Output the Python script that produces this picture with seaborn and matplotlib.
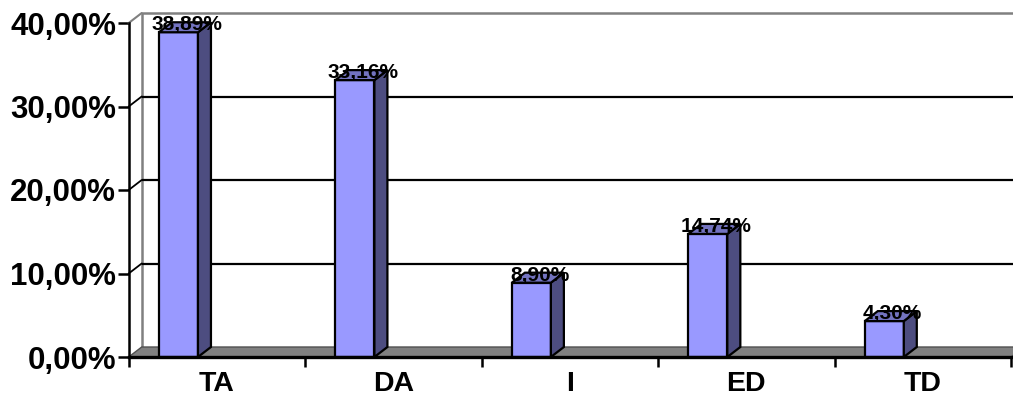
import matplotlib
matplotlib.use("Agg")
import matplotlib.pyplot as plt
from matplotlib.patches import Polygon
import seaborn as sns
import pandas as pd

categories = ["TA", "DA", "I", "ED", "TD"]
values = [38.89, 33.16, 8.90, 14.74, 4.30]
bar_labels = ["38,89%", "33,16%", "8,90%", "14,74%", "4,30%"]
y_ticks = [0, 10, 20, 30, 40]
y_tick_labels = ["0,00%", "10,00%", "20,00%", "30,00%", "40,00%"]

sns.set_theme(style="white")
plt.rcParams['font.family'] = ['Liberation Sans', 'DejaVu Sans']
plt.rcParams['font.weight'] = 'bold'
for k in ["text.color", "xtick.color", "ytick.color", "axes.labelcolor"]:
    plt.rcParams[k] = "black"

W, H = 1013, 404
fig = plt.figure(figsize=(W / 100, H / 100), dpi=100)
ax_left, ax_right, ax_top, ax_bot = 128.7, 1011.0, 23.0, 357.0
ax = fig.add_axes([ax_left / W, (H - ax_bot) / H, (ax_right - ax_left) / W, (ax_bot - ax_top) / H])

bar_w = 0.221
shift = 0.218          # category centre relative to bar centre
x0, x1 = -0.5 + shift, len(categories) - 0.5 + shift
ymax = 40
px_per_x = (ax_right - ax_left) / (x1 - x0)
px_per_y = (ax_bot - ax_top) / ymax
dx = 13 / px_per_x
dy = 10 / px_per_y

front = "#9999FF"
side = "#4D4D80"
topc = "#7373C0"

df = pd.DataFrame({"cat": categories, "val": values})
sns.barplot(data=df, x="cat", y="val", color=front, width=bar_w, saturation=1,
            edgecolor="black", linewidth=1.6, ax=ax, zorder=5)

ax.set_xlim(x0, x1)
ax.set_ylim(0, ymax)

# back wall
wall = Polygon([(x0 + dx, dy), (x1 + 2 * dx, dy), (x1 + 2 * dx, ymax + dy), (x0 + dx, ymax + dy)],
               closed=True, facecolor="white", edgecolor="none", zorder=0, clip_on=False)
ax.add_patch(wall)
ax.plot([x0 + dx, x0 + dx, x1 + 2 * dx], [dy, ymax + dy, ymax + dy], color="#808080",
        lw=1.8, clip_on=False, zorder=1, solid_capstyle="butt")
ax.plot([x0, x0 + dx], [ymax, ymax + dy], color="#808080", lw=1.5, clip_on=False, zorder=1)
for yt in y_ticks[1:-1]:
    ax.plot([x0 + dx, x1 + 2 * dx], [yt + dy, yt + dy], color="black", lw=1.6,
            clip_on=False, zorder=1, solid_capstyle="butt")
    ax.plot([x0, x0 + dx], [yt, yt + dy], color="black", lw=1.3, clip_on=False, zorder=1)

# floor
floor = Polygon([(x0, 0), (x1, 0), (x1 + dx, dy), (x0 + dx, dy)], closed=True,
                facecolor="#808080", edgecolor="#505050", lw=1.0, zorder=2, clip_on=False)
ax.add_patch(floor)

# 3D sides and tops of bars
for i, v in enumerate(values):
    l, r = i - bar_w / 2, i + bar_w / 2
    ax.add_patch(Polygon([(r, 0), (r + dx, dy), (r + dx, v + dy), (r, v)], closed=True,
                         facecolor=side, edgecolor="black", lw=1.6, zorder=6, clip_on=False))
    ax.add_patch(Polygon([(l, v), (r, v), (r + dx, v + dy), (l + dx, v + dy)], closed=True,
                         facecolor=topc, edgecolor="black", lw=1.6, zorder=6, clip_on=False))
    ax.text(i + dx / 2 + 0.01, v + dy * 0.75, bar_labels[i], ha="center", va="center",
            fontsize=15, fontweight="bold", color="black", zorder=8, clip_on=False)

# axes styling
for s in ["top", "right"]:
    ax.spines[s].set_visible(False)
ax.spines["left"].set_color("black")
ax.spines["left"].set_linewidth(1.8)
ax.spines["bottom"].set_color("black")
ax.spines["bottom"].set_linewidth(2.4)
ax.spines["left"].set_zorder(9)
ax.spines["bottom"].set_zorder(9)

ax.set_yticks(y_ticks)
ax.set_yticklabels(y_tick_labels, fontsize=22.5, fontweight="bold", color="black")
ax.tick_params(axis="y", direction="out", length=8, width=1.8, color="black", pad=1, left=True)

centers = [i + shift for i in range(len(categories))]
ax.set_xticks(centers)
ax.set_xticklabels(categories, fontsize=20.5, fontweight="bold", color="black")
ax.set_xticks([x0 + k for k in range(len(categories) + 1)], minor=True)
ax.tick_params(axis="x", which="major", length=0, pad=10)
ax.tick_params(axis="x", which="minor", direction="out", length=7, width=1.8, color="black", bottom=True)
ax.set_xlabel("")
ax.set_ylabel("")
ax.grid(False)

fig.savefig("out.png", dpi=100)
